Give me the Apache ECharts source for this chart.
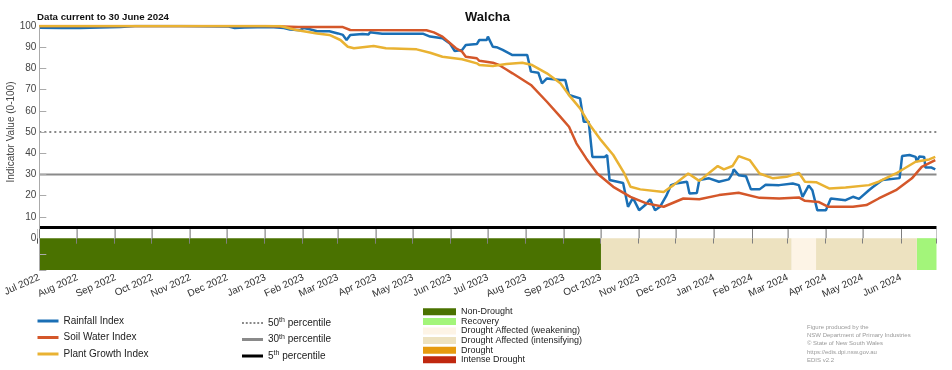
<!DOCTYPE html>
<html><head><meta charset="utf-8">
<script src="https://cdn.jsdelivr.net/npm/echarts@6/dist/echarts.min.js"></script>
<style>html,body{margin:0;padding:0;background:#fff}#c{width:952px;height:370px}</style>
</head><body><div id="c"></div>
<script>
const startDate = '2022-07-01';
const endDate = '2024-06-30';

const rainfall = [
['2022-07-01',99.2],['2022-07-19',99.0],['2022-08-03',99.0],['2022-08-19',99.3],['2022-09-05',99.5],['2022-09-17',100],['2022-10-24',100],['2022-12-02',99.8],['2022-12-07',99.0],['2022-12-15',99.3],['2023-01-05',99.5],['2023-01-16',99.0],['2023-01-21',98.3],['2023-01-29',98.0],['2023-02-01',99.0],['2023-02-06',98.5],['2023-02-12',97.5],['2023-02-22',97.5],['2023-03-01',96.5],['2023-03-05',95.8],['2023-03-08',93.4],['2023-03-11',95.8],['2023-03-21',96.2],['2023-03-26',96.0],['2023-03-27',97.0],['2023-03-28',96.2],['2023-04-06',96.4],['2023-04-20',96.4],['2023-05-09',96.4],['2023-05-15',95.0],['2023-05-25',94.2],['2023-05-31',91.8],['2023-06-04',88.2],['2023-06-10',88.7],['2023-06-13',91.0],['2023-06-22',91.5],['2023-06-24',93.4],['2023-06-30',93.4],['2023-07-01',95.0],['2023-07-02',94.2],['2023-07-05',90.2],['2023-07-08',90.0],['2023-07-13',88.7],['2023-07-21',86.3],['2023-08-02',86.3],['2023-08-05',78.5],['2023-08-11',78.0],['2023-08-14',73.0],['2023-08-18',75.3],['2023-08-29',74.5],['2023-09-02',74.5],['2023-09-05',67.5],['2023-09-14',65.9],['2023-09-17',54.9],['2023-09-21',54.9],['2023-09-24',38.3],['2023-10-04',38.3],['2023-10-06',39.2],['2023-10-08',27.4],['2023-10-19',26.0],['2023-10-23',14.8],['2023-10-27',19.0],['2023-11-01',13.2],['2023-11-06',15.6],['2023-11-10',18.3],['2023-11-14',13.2],['2023-11-18',14.8],['2023-11-23',19.8],['2023-11-27',25.0],['2023-12-01',25.8],['2023-12-10',26.6],['2023-12-12',21.1],['2023-12-18',21.3],['2023-12-20',27.4],['2023-12-28',28.2],['2024-01-05',26.6],['2024-01-13',27.7],['2024-01-16',30.5],['2024-01-17',32.4],['2024-01-21',29.7],['2024-01-27',29.2],['2024-01-31',23.0],['2024-02-07',23.0],['2024-02-12',25.2],['2024-02-23',25.0],['2024-03-05',25.8],['2024-03-10',25.0],['2024-03-13',19.5],['2024-03-18',24.8],['2024-03-21',22.6],['2024-03-25',13.2],['2024-04-01',13.2],['2024-04-05',18.7],['2024-04-17',17.9],['2024-04-23',19.5],['2024-04-28',18.5],['2024-05-06',22.6],['2024-05-09',24.0],['2024-05-17',27.4],['2024-05-31',28.3],['2024-06-02',38.7],['2024-06-08',39.2],['2024-06-13',38.3],['2024-06-14',36.0],['2024-06-16',38.5],['2024-06-20',38.3],['2024-06-21',33.3],['2024-06-26',33.3],['2024-06-29',32.4]
];

const soilWater = [
['2022-07-01',100],['2023-01-01',100],['2023-01-28',99.5],['2023-03-05',99.5],['2023-03-11',98.1],['2023-05-12',98.0],['2023-05-18',97.0],['2023-05-25',95.0],['2023-05-31',92.0],['2023-06-05',89.5],['2023-06-10',87.9],['2023-06-13',85.5],['2023-06-22',84.8],['2023-06-24',83.6],['2023-07-05',82.7],['2023-07-10',81.6],['2023-07-16',79.5],['2023-07-21',77.7],['2023-08-05',72.2],['2023-08-18',64.3],['2023-08-29',57.2],['2023-09-05',52.5],['2023-09-11',44.7],['2023-09-19',37.6],['2023-09-28',30.5],['2023-10-11',24.2],['2023-10-25',19.5],['2023-11-07',16.4],['2023-11-21',14.8],['2023-12-07',18.7],['2023-12-20',18.3],['2024-01-05',20.3],['2024-01-21',21.4],['2024-02-07',19.0],['2024-02-23',18.7],['2024-03-10',19.2],['2024-03-15',17.6],['2024-03-26',17.1],['2024-04-03',14.8],['2024-04-23',14.8],['2024-05-04',15.6],['2024-05-14',18.7],['2024-05-28',22.6],['2024-06-10',28.2],['2024-06-18',33.6],['2024-06-29',36.8]
];

const plantGrowth = [
['2022-07-01',100],['2023-01-13',100],['2023-01-26',98.1],['2023-02-12',96.5],['2023-02-22',95.8],['2023-03-03',93.4],['2023-03-09',90.2],['2023-03-14',89.5],['2023-03-30',90.6],['2023-04-09',89.5],['2023-05-04',89.0],['2023-05-15',87.4],['2023-05-25',85.5],['2023-06-10',84.3],['2023-06-22',82.4],['2023-06-24',81.6],['2023-07-05',81.1],['2023-07-16',82.1],['2023-07-29',82.7],['2023-08-06',81.6],['2023-08-18',77.7],['2023-08-29',73.0],['2023-09-06',66.7],['2023-09-14',61.2],['2023-09-22',53.3],['2023-10-01',46.2],['2023-10-11',39.2],['2023-10-20',30.5],['2023-10-25',24.2],['2023-11-02',23.0],['2023-11-21',21.8],['2023-11-29',25.0],['2023-12-11',30.5],['2023-12-20',27.0],['2024-01-04',34.0],['2024-01-09',32.4],['2024-01-16',34.0],['2024-01-21',38.7],['2024-01-30',36.8],['2024-02-07',30.5],['2024-02-18',28.2],['2024-02-29',28.9],['2024-03-10',30.8],['2024-03-15',26.6],['2024-03-24',26.4],['2024-04-04',23.4],['2024-04-17',23.9],['2024-05-06',25.0],['2024-05-14',26.6],['2024-05-28',30.5],['2024-06-13',36.0],['2024-06-24',37.1],['2024-06-29',38.3]
];

const percentileNames = ['50th percentile', '30th percentile', '5th percentile'];
const percentileValues = [50, 30, 5];

const droughtCategories = ['Non-Drought', 'Recovery', 'Drought Affected (weakening)', 'Drought Affected (intensifying)', 'Drought', 'Intense Drought'];
const droughtPeriods = [
['2022-07-01','2023-10-01','Non-Drought'],
['2023-10-01','2024-03-04','Drought Affected (intensifying)'],
['2024-03-04','2024-03-24','Drought Affected (weakening)'],
['2024-03-24','2024-06-14','Drought Affected (intensifying)'],
['2024-06-14','2024-06-30','Recovery']
];

const yTickLabels = [0, 10, 20, 30, 40, 50, 60, 70, 80, 90, 100];
const yTickMarks = [-15, -7.5, 10, 20, 30, 40, 50, 60, 70, 80, 90, 100];

const indexNames = ['Rainfall Index', 'Soil Water Index', 'Plant Growth Index'];
const indexColors = ['#1a6fb5', '#d4572a', '#e9b232'];
const droughtColors = ['#4a7200', '#a3f57a', '#fdf4e6', '#ede2c0', '#e69a0e', '#c0280f'];
const percentileStyles = [
  {color: '#888', width: 2, type: [2, 3]},
  {color: '#8a8a8a', width: 2, type: 'solid'},
  {color: '#000', width: 3, type: 'solid'}
];
const dottedIcon = 'path://M0 0h2v2H0zM4 0h2v2H4zM8 0h2v2H8zM12 0h2v2h-2zM16 0h2v2h-2zM20 0h2v2h-2z';

const FONT = '"Liberation Sans", Arial, sans-serif';
const barTop = 0, barBottom = -15;

const chart = echarts.init(document.getElementById('c'), null, {renderer: 'canvas'});

const series = [];
percentileNames.forEach((n, i) => {
  series.push({
    name: n, type: 'line', xAxisIndex: 0, yAxisIndex: 0, symbol: 'none', silent: true, z: 1,
    data: [[startDate, percentileValues[i]], [endDate, percentileValues[i]]],
    lineStyle: percentileStyles[i], itemStyle: {color: percentileStyles[i].color}
  });
});
[rainfall, soilWater, plantGrowth].forEach((d, i) => {
  series.push({
    name: indexNames[i], type: 'line', xAxisIndex: 0, yAxisIndex: 0, symbol: 'none', z: 3 + i,
    data: d, lineStyle: {color: indexColors[i], width: 2.5}, itemStyle: {color: indexColors[i]}
  });
});
droughtCategories.forEach((cat, i) => {
  series.push({
    name: cat, type: 'custom', xAxisIndex: 0, yAxisIndex: 0, z: 2,
    dimensions: [{name: 'start', type: 'time'}, {name: 'end', type: 'time'}],
    encode: {x: [0, 1]},
    itemStyle: {color: droughtColors[i]},
    data: droughtPeriods.filter(p => p[2] === cat).map(p => [p[0], p[1]]),
    renderItem: (params, api) => {
      const a = api.coord([api.value(0), barTop]);
      const b = api.coord([api.value(1), barBottom]);
      return {type: 'rect', shape: {x: a[0], y: a[1], width: b[0] - a[0], height: b[1] - a[1]},
              style: {fill: droughtColors[i]}};
    }
  });
});

const supFormatter = name => name.replace(/^(\d+)th/, '$1{sup|th}');

chart.setOption({
  animation: false,
  textStyle: {fontFamily: FONT},
  title: [
    {text: 'Walcha', left: 460, top: 6, textStyle: {fontSize: 13, fontWeight: 'bold', color: '#111', fontFamily: FONT}},
    {text: 'Data current to 30 June 2024', left: 37, top: 12, padding: 0, textStyle: {fontSize: 9.7, fontWeight: 'bold', color: '#111', fontFamily: FONT}},
    {text: 'Figure produced by the\nNSW Department of Primary Industries\n\u00A9 State of New South Wales\nhttps://edis.dpi.nsw.gov.au\nEDIS v2.2',
     left: 807, top: 323, padding: 0, textStyle: {fontSize: 6, lineHeight: 8.3, fontWeight: 'normal', color: '#999', fontFamily: FONT}}
  ],
  graphic: [{
    type: 'text', x: 11, y: 132, rotation: Math.PI / 2,
    style: {text: 'Indicator Value (0-100)', fontSize: 10, fill: '#444', align: 'center', verticalAlign: 'middle', fontFamily: FONT}
  }],
  legend: [
    {data: indexNames.map(n => ({name: n, icon: 'rect'})), orient: 'vertical', left: 37.5, top: 315, padding: 0,
     itemWidth: 21, itemHeight: 3, itemGap: 4.5, itemTextGap: 3.5,
     textStyle: {fontSize: 10, color: '#222', lineHeight: 12, fontFamily: FONT}},
    {data: percentileNames.map((n, i) => ({name: n, icon: i === 0 ? dottedIcon : 'rect'})), orient: 'vertical', left: 242, top: 317, padding: 0,
     itemWidth: 21, itemHeight: 3, itemGap: 4.5, itemTextGap: 3.5,
     formatter: supFormatter,
     textStyle: {fontSize: 10, color: '#222', lineHeight: 12, fontFamily: FONT,
       rich: {sup: {fontSize: 7, lineHeight: 6, verticalAlign: 'top', color: '#222', fontFamily: FONT}}}},
    {data: droughtCategories, orient: 'vertical', left: 423, top: 307, padding: 0, itemWidth: 33, itemHeight: 7, itemGap: 0, itemTextGap: 4,
     icon: 'rect', textStyle: {fontSize: 9, color: '#222', lineHeight: 9.6, fontFamily: FONT}}
  ],
  grid: [
    {left: 37.7, right: 15.5, top: 26, bottom: 100},
    {left: 37.7, right: 15.5, top: 229, height: 14.5}
  ],
  xAxis: [
    {type: 'time', gridIndex: 0, min: startDate, max: endDate, splitNumber: 24,
     minInterval: 28 * 86400000, maxInterval: 31 * 86400000,
     axisLine: {show: false},
     axisTick: {show: true, inside: true, length: 9, lineStyle: {color: 'rgba(0,0,0,0.35)'}},
     splitLine: {show: false},
     axisLabel: {rotate: 24, formatter: '{MMM} {yyyy}', fontSize: 10, color: '#333', margin: 7, hideOverlap: false, fontFamily: FONT},
     z: 5},
    {type: 'time', gridIndex: 1, min: startDate, max: endDate, splitNumber: 24,
     minInterval: 28 * 86400000, maxInterval: 31 * 86400000,
     axisLine: {show: false}, axisLabel: {show: false},
     axisTick: {show: true, inside: true, length: 5, lineStyle: {color: 'rgba(0,0,0,0.35)'}},
     splitLine: {show: true, lineStyle: {color: '#c4c4c4', width: 1}},
     z: 5}
  ],
  yAxis: [
    {type: 'value', gridIndex: 0, min: -15, max: 100,
     axisLine: {show: true, lineStyle: {color: '#aaa', width: 1}},
     axisTick: {show: true, inside: true, length: 7, customValues: yTickMarks, lineStyle: {color: '#aaa'}},
     axisLabel: {customValues: yTickLabels, fontSize: 10, color: '#444', margin: 3, fontFamily: FONT},
     splitLine: {show: false}, z: 5},
    {type: 'value', gridIndex: 1, min: 0, max: 1, show: false}
  ],
  series: series
});
</script>
</body></html>
